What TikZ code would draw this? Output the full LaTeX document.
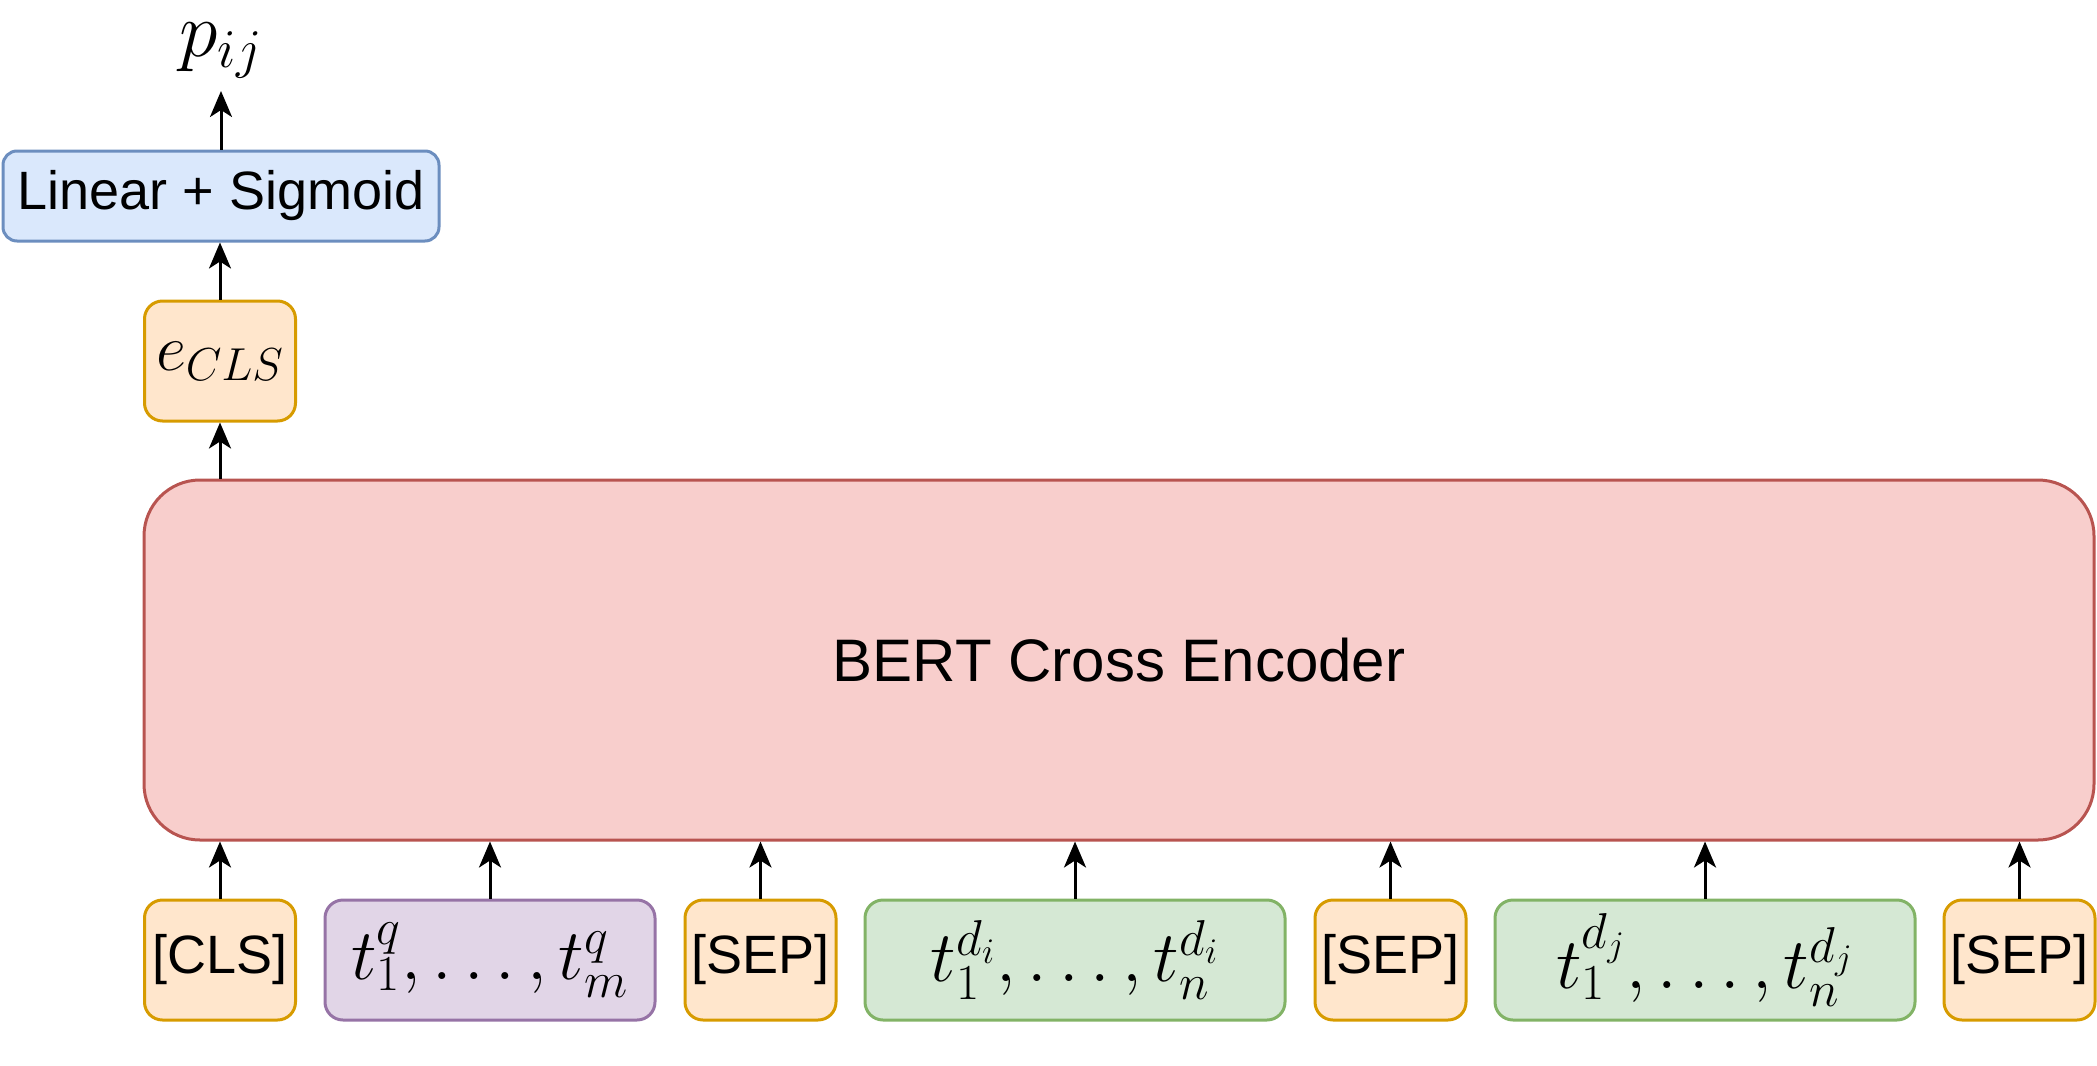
\RequirePackage{fix-cm}
\documentclass[tikz,border=0pt]{standalone}
\usepackage{fontspec}
\setmainfont{Liberation Sans}
\usetikzlibrary{arrows.meta}
\definecolor{bluef}{HTML}{DAE8FC}\definecolor{blued}{HTML}{6C8EBF}
\definecolor{oranf}{HTML}{FFE6CC}\definecolor{orand}{HTML}{D79B00}
\definecolor{redf}{HTML}{F8CECC}\definecolor{redd}{HTML}{B85450}
\definecolor{purf}{HTML}{E1D5E7}\definecolor{purd}{HTML}{9673A6}
\definecolor{grnf}{HTML}{D5E8D4}\definecolor{grnd}{HTML}{82B366}
\begin{document}
\begin{tikzpicture}[x=0.5pt,y=-0.5pt,
  boxbase/.style={draw, line width=1.5pt, inner sep=0pt, align=center, rounded corners=9pt, minimum height=60pt},
  txt/.style={font=\fontsize{27}{32}\selectfont},
  mth/.style={font=\fontsize{36}{43}\selectfont},
  orbox/.style={boxbase, fill=oranf, draw=orand, minimum width=75.5pt},
  pubox/.style={boxbase, fill=purf, draw=purd, minimum width=165pt},
  grbox/.style={boxbase, fill=grnf, draw=grnd, minimum width=210pt},
  linbox/.style={boxbase, fill=bluef, draw=blued, minimum width=218pt, minimum height=45pt, rounded corners=7pt},
  bertbox/.style={boxbase, fill=redf, draw=redd, minimum width=975pt, minimum height=180pt, rounded corners=28pt},
  arr/.style={line width=1.5pt, -{Stealth[length=13pt,width=11pt,inset=3.5pt]}}
]
\useasboundingbox (0,0) rectangle (2097,1065);
\node[linbox, txt] (lin) at (221,196) {Linear + Sigmoid};
\node[orbox, font=\fontsize{33}{40}\selectfont] (ecls) at (220,361) {$e_{CLS}$};
\node[bertbox, font=\fontsize{30}{36}\selectfont] (bert) at (1119,660) {BERT Cross Encoder};
\node[anchor=south, inner sep=0pt, font=\fontsize{39}{46}\selectfont] (p) at (221,79) {$p_{ij}$};
\node[orbox, txt] (cls) at (220,960) {[CLS]};
\node[pubox, mth] (q) at (490,960) {$t_1^q,\ldots,t_m^q$};
\node[orbox, txt] (sep1) at (760.5,960) {[SEP]};
\node[grbox, mth] (di) at (1075,960) {$t_1^{d_i},\ldots,t_n^{d_i}$};
\node[orbox, txt] (sep2) at (1390.5,960) {[SEP]};
\node[grbox, mth] (dj) at (1705,960) {$t_1^{d_j},\ldots,t_n^{d_j}$};
\node[orbox, txt] (sep3) at (2019.5,960) {[SEP]};
\draw[arr, shorten >=6pt] (lin.north) -- (p.south -| lin.north);
\draw[arr] (ecls.north) -- (ecls.north |- lin.south);
\draw[arr] (ecls.south |- bert.north) -- (ecls.south);
\foreach \n in {cls,q,sep1,di,sep2,dj,sep3}
  \draw[arr] (\n.north) -- (\n.north |- bert.south);
\end{tikzpicture}
\end{document}
